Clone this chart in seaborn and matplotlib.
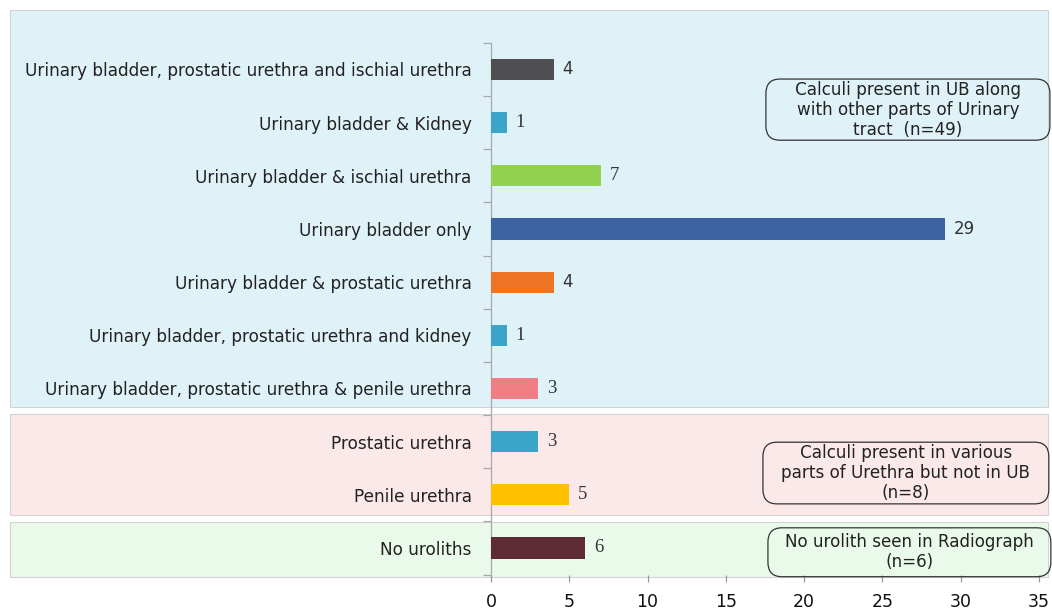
import matplotlib
matplotlib.use("Agg")
import matplotlib.pyplot as plt
import matplotlib.transforms as mtransforms
from matplotlib.patches import Rectangle, FancyBboxPatch
from matplotlib.ticker import MultipleLocator, FixedLocator
import seaborn as sns
import pandas as pd

# Distribution of urolith locations
categories = [
    "Urinary bladder, prostatic urethra and ischial urethra",
    "Urinary bladder & Kidney",
    "Urinary bladder & ischial urethra",
    "Urinary bladder only",
    "Urinary bladder & prostatic urethra",
    "Urinary bladder, prostatic urethra and kidney",
    "Urinary bladder, prostatic urethra & penile urethra",
    "Prostatic urethra",
    "Penile urethra",
    "No uroliths",
]
counts = [4, 1, 7, 29, 4, 1, 3, 3, 5, 6]
bar_colors = ["#4f4f52", "#3aa5c9", "#93d150", "#3d64a1", "#ec7424",
              "#3aa5c9", "#ef7f84", "#3aa5c9", "#ffc000", "#5c2b35"]

group_notes = [
    "Calculi present in UB along\nwith other parts of Urinary\ntract  (n=49)",
    "Calculi present in various\nparts of Urethra but not in UB\n(n=8)",
    "No urolith seen in Radiograph\n(n=6)",
]

# value label fonts (serif for some labels, sans for others)
label_serif = [False, True, True, False, False, True, True, True, True, True]

df = pd.DataFrame({"location": categories, "count": counts})

sns.set_theme(style="white")
plt.rcParams["font.family"] = ["DejaVu Sans"]

fig = plt.figure(figsize=(10.52, 6.11), dpi=100)
fig.patch.set_facecolor("white")
ax = fig.add_axes([0.4667, 0.0596, 0.5209, 0.8702])
ax.set_facecolor("none")
ax.set_zorder(2)

sns.barplot(data=df, x="count", y="location", hue="location",
            palette=bar_colors, orient="h", width=0.4, legend=False,
            saturation=1, linewidth=0, ax=ax, zorder=3)

ax.set_xlim(0, 35)
ax.set_ylim(9.5, -0.5)
ax.set_xlabel("")
ax.set_ylabel("")

# background panels for the three groups (full figure width, rows in data units)
blend = mtransforms.blended_transform_factory(fig.transFigure, ax.transData)
panels = [(-1.12, 6.35, "#dff2f8"), (6.48, 8.38, "#fbe9ea"), (8.51, 9.545, "#eafaea")]
for y0, y1, col in panels:
    fig.patches.append(Rectangle((0.0095, y0), 0.9867, y1 - y0, transform=blend,
                                 facecolor=col, edgecolor="#d2d4d4", linewidth=0.8,
                                 zorder=0))

# note boxes
boxes = [(17.56, 0.18, 35.7, 1.33), (17.37, 7.01, 35.63, 8.17), (17.69, 8.62, 35.76, 9.54)]
for (x0, y0, x1, y1), txt in zip(boxes, group_notes):
    ax.add_patch(FancyBboxPatch((x0, y0), x1 - x0, y1 - y0,
                                boxstyle="round,pad=0,rounding_size=0.9",
                                mutation_aspect=0.3,
                                facecolor="none", edgecolor="#333333",
                                linewidth=0.9, clip_on=False, zorder=4))
    ax.text((x0 + x1) / 2, (y0 + y1) / 2, txt, ha="center", va="center",
            fontsize=12.1, color="#222222", linespacing=1.15, zorder=5)

# value labels
for i, (v, serif) in enumerate(zip(counts, label_serif)):
    ax.annotate(str(v), xy=(v, i), xytext=(6.5, 0), textcoords="offset points",
                ha="left", va="center", fontsize=13.5 if serif else 12,
                color="#333333",
                family="Liberation Serif" if serif else "DejaVu Sans", zorder=5)

# axes styling
for side in ["top", "right", "bottom"]:
    ax.spines[side].set_visible(False)
ax.spines["left"].set_color("#a8a8a8")
ax.spines["left"].set_linewidth(0.9)

ax.xaxis.set_major_locator(MultipleLocator(5))
ax.tick_params(axis="x", which="major", bottom=True, length=5, width=0.9,
               color="#999999", labelsize=12.5, labelcolor="#111111", pad=8)
ax.yaxis.set_minor_locator(FixedLocator([i - 0.5 for i in range(len(categories) + 1)]))
ax.tick_params(axis="y", which="major", left=False, length=0, labelsize=12.2,
               labelcolor="#222222", pad=14)
ax.tick_params(axis="y", which="minor", left=True, length=6, width=0.9,
               color="#a8a8a8")
ax.grid(False)

fig.savefig("out.png", dpi=100, facecolor="white")
